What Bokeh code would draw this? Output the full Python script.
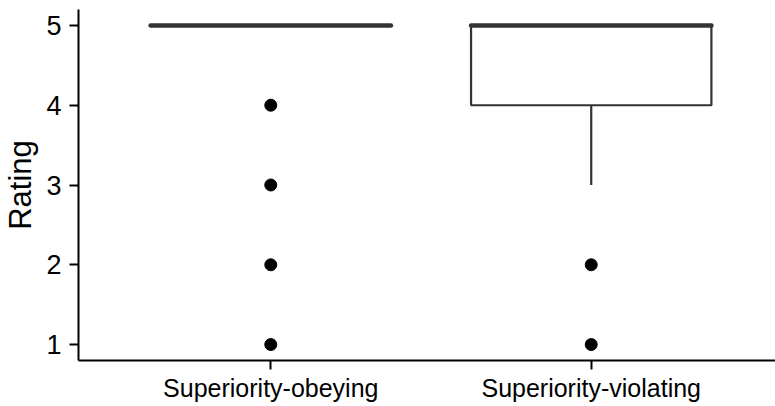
from bokeh.plotting import figure
from bokeh.models import Range1d, FixedTicker, ColumnDataSource
from bokeh.embed import file_html
from bokeh.resources import INLINE

# ---- data ----
categories = ["Superiority-obeying", "Superiority-violating"]
q1 = [5, 4]
median = [5, 5]
q3 = [5, 5]
lower_whisker = [5, 3]
upper_whisker = [5, 5]
outlier_cat = ["Superiority-obeying"] * 4 + ["Superiority-violating"] * 2
outlier_val = [4, 3, 2, 1, 2, 1]
y_ticks = [1, 2, 3, 4, 5]

pos = {c: i + 1 for i, c in enumerate(categories)}
xs = [pos[c] for c in categories]
half = 0.375

box_src = ColumnDataSource(dict(
    x=xs,
    left=[x - half for x in xs],
    right=[x + half for x in xs],
    q1=q1, q3=q3, med=median, lo=lower_whisker, hi=upper_whisker,
))
out_src = ColumnDataSource(dict(x=[pos[c] for c in outlier_cat], y=outlier_val))

FONT = "Liberation Sans"
p = figure(width=775, height=406, output_backend="svg", toolbar_location=None,
           x_range=Range1d(0.4, 2.575), y_range=Range1d(0.8, 5.2),
           min_border_left=78, min_border_right=0, min_border_top=9, min_border_bottom=46)
p.outline_line_color = None
p.grid.visible = False
p.background_fill_color = "white"

# whiskers
p.segment(x0="x", y0="q1", x1="x", y1="lo", source=box_src, line_color="#333333", line_width=2.2)
p.segment(x0="x", y0="q3", x1="x", y1="hi", source=box_src, line_color="#333333", line_width=2.2)
# boxes
p.quad(left="left", right="right", bottom="q1", top="q3", source=box_src,
       fill_color="white", line_color="#333333", line_width=2.2)
# medians
p.segment(x0="left", y0="med", x1="right", y1="med", source=box_src,
          line_color="#333333", line_width=4.5, line_cap="round")
# outliers
p.scatter(x="x", y="y", source=out_src, size=12, color="black")

for ax in (p.xaxis[0], p.yaxis[0]):
    ax.axis_line_color = "black"
    ax.axis_line_width = 2
    ax.major_tick_line_color = "black"
    ax.major_tick_line_width = 2
    ax.major_tick_out = 9
    ax.major_tick_in = 0
    ax.minor_tick_line_color = None
    ax.major_label_text_color = "black"
    ax.major_label_text_font = FONT

p.xaxis.ticker = FixedTicker(ticks=xs)
p.xaxis.major_label_overrides = {x: c for x, c in zip(xs, categories)}
p.xaxis.major_label_text_font_size = "25px"
p.xaxis.major_label_standoff = 4

p.yaxis.ticker = FixedTicker(ticks=y_ticks)
p.yaxis.major_label_text_font_size = "27px"
p.yaxis.major_label_standoff = 8
p.yaxis.axis_label = "Rating"
p.yaxis.axis_label_text_font = FONT
p.yaxis.axis_label_text_font_size = "31px"
p.yaxis.axis_label_text_font_style = "normal"
p.yaxis.axis_label_text_color = "black"
p.yaxis.axis_label_standoff = 5

open("out.html", "w").write(file_html(p, INLINE))
